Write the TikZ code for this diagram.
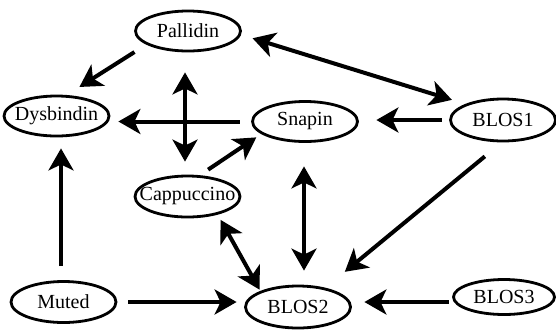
\documentclass[tikz,border=0pt]{standalone}
\usepackage{fontspec}
\setmainfont{Liberation Serif}
\usetikzlibrary{arrows.meta,shapes.geometric,calc}
\tikzset{
  protein node/.style={
    draw,
    ellipse,
    line width=2.8pt,
    minimum width=105pt,
    minimum height=40pt,
    inner xsep=-12pt,
    inner ysep=0pt,
    font=\fontsize{20}{22}\selectfont,
  },
  link/.style={-{Stealth[length=22pt,width=25pt,inset=6pt]},line width=4pt},
  both link/.style={{Stealth[length=22pt,width=25pt,inset=6pt]}-{Stealth[length=22pt,width=25pt,inset=6pt]},line width=4pt},
}

\begin{document}
\begin{tikzpicture}[x=1pt,y=-1pt]
\useasboundingbox (0,0) rectangle (556,330);

% Proteins.
\node[protein node] (pal) at (188,31) {Pallidin};
\node[protein node] (dys) at (56.5,116) {Dysbindin};
\node[protein node] (snp) at (305,121.5) {Snapin};
\node[protein node,minimum height=42pt] (bl1) at (503,120) {BLOS1};
\node[protein node,minimum width=105pt,minimum height=41pt] (cap) at (187.5,196.5) {Cappuccino};
\node[protein node,minimum height=41pt] (mut) at (63.5,302) {Muted};
\node[protein node,minimum height=42pt] (bl2) at (298,307) {BLOS2};
\node[protein node,minimum width=101pt,minimum height=35pt] (bl3) at (504,297) {BLOS3};

% Interactions.
\draw[link,shorten <=14pt,shorten >=15pt] (pal.198) -- (dys.64);
\draw[both link,shorten <=12pt,shorten >=14pt] (pal.-4) -- (bl1.157);
\draw[both link,shorten <=20pt,shorten >=13pt] ([xshift=-3pt]pal.south) -- ([xshift=-3pt]pal.south |- cap.north);
\draw[link,shorten <=11.5pt,shorten >=8pt] (snp.west) -- (snp.west -| dys.east);
\draw[link,shorten <=7.5pt,shorten >=17.5pt] (bl1.west) -- (bl1.west -| snp.east);
\draw[link,shorten <=10pt,shorten >=6pt] (cap.60) -- (snp.196);
\draw[both link,shorten <=23.5pt,shorten >=14pt] ([xshift=-1pt]snp.south) -- ([xshift=-1pt]snp.south |- bl2.north);
\draw[link,shorten <=22pt,shorten >=25pt] (bl1.267) -- (bl2.35);
\draw[both link,shorten <=6pt,shorten >=1.5pt] (cap.-31) -- (bl2.157);
\draw[link,shorten <=14pt,shorten >=11pt] ([xshift=-2.5pt]mut.north) -- ([xshift=-2.5pt]mut.north |- dys.south);
\draw[link,shorten <=11pt,shorten >=7.5pt] (mut.east) -- (mut.east -| bl2.west);
\draw[link,shorten <=3.5pt,shorten >=12.5pt] ([yshift=-5pt]bl3.west) -- ([yshift=-5pt]bl3.west -| bl2.east);

\end{tikzpicture}
\end{document}
